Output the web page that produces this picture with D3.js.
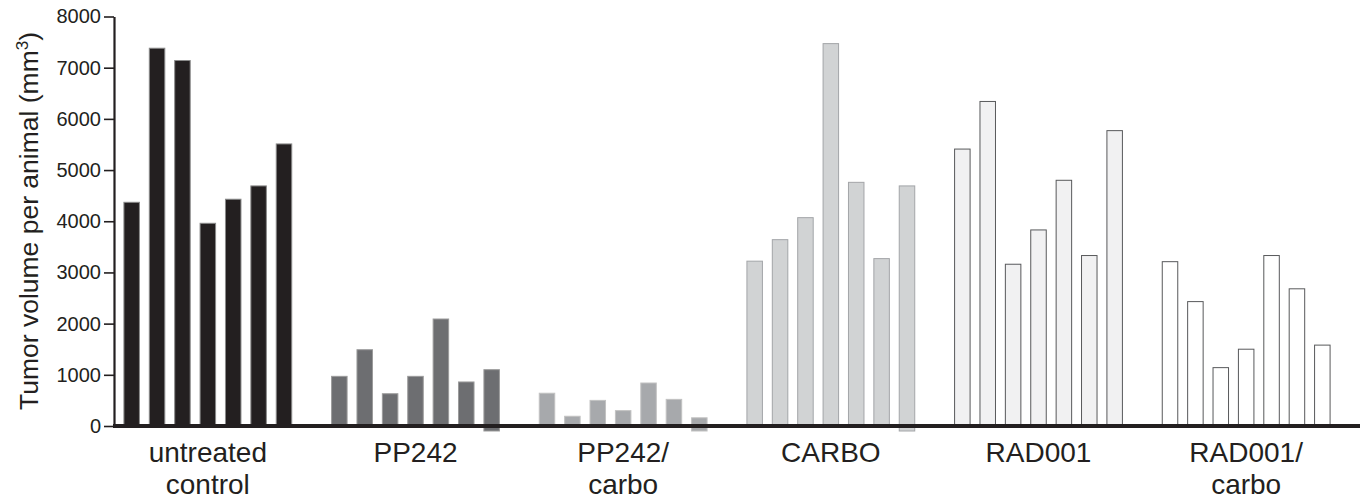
<!DOCTYPE html>
<html>
<head>
<meta charset="utf-8">
<script src="https://cdn.jsdelivr.net/npm/d3@7"></script>
<style>
  html, body { margin: 0; padding: 0; background: #fff; }
  svg { display: block; }
  text { font-family: "Liberation Sans", Arial, Helvetica, sans-serif; fill: #231f20; }
</style>
</head>
<body>
<svg id="chart" width="1360" height="499"></svg>
<script>
// ---- data ----
const groups = ["untreated control", "PP242", "PP242/carbo", "CARBO", "RAD001", "RAD001/carbo"];
const groupLabelLines = [["untreated", "control"], ["PP242"], ["PP242/", "carbo"], ["CARBO"], ["RAD001"], ["RAD001/", "carbo"]];
const animals = ["1", "2", "3", "4", "5", "6", "7"];
const untreatedControl = [4380, 7390, 7150, 3970, 4440, 4700, 5520];
const pp242 = [980, 1500, 640, 980, 2100, 870, 1110];
const pp242Carbo = [650, 200, 510, 310, 850, 530, 170];
const carbo = [3230, 3650, 4080, 7480, 4770, 3280, 4700];
const rad001 = [5420, 6350, 3170, 3840, 4810, 3340, 5780];
const rad001Carbo = [3220, 2440, 1150, 1510, 3340, 2690, 1590];
const seriesValues = [untreatedControl, pp242, pp242Carbo, carbo, rad001, rad001Carbo];
const yTicks = [0, 1000, 2000, 3000, 4000, 5000, 6000, 7000, 8000];
const yTitle = "Tumor volume per animal (mm";

// ---- styles ----
const fills = ["#231f20", "#6d6e71", "#a7a9ac", "#d1d3d4", "#f1f1f2", "#ffffff"];
const strokes = ["#8a8a8a", "#9b9b9b", "#c2c2c2", "#a3a5a8", "#58595b", "#58595b"];

const svg = d3.select("#chart");
const axisX0 = 114, baseY = 426, topY = 16.5;

const y = d3.scaleLinear().domain([0, 8000]).range([baseY, topY]);
const xg = d3.scaleBand().domain(groups).range([104, 1350]).paddingInner(0).paddingOuter(0);
const xb = d3.scaleBand().domain(animals).range([0, xg.bandwidth()]).paddingInner(0.35).paddingOuter(0.765);

// bars
const gGroups = svg.selectAll("g.grp").data(groups).join("g")
  .attr("class", "grp")
  .attr("transform", d => `translate(${xg(d)},0)`);

gGroups.each(function(gname, gi) {
  const vals = seriesValues[gi];
  d3.select(this).selectAll("rect").data(vals).join("rect")
    .attr("x", (v, i) => xb(animals[i]) + 0.5)
    .attr("y", v => y(v) + 0.5)
    .attr("width", xb.bandwidth() - 1)
    .attr("height", (v, i) => (y(0) - y(v)) + ((gi >= 1 && gi <= 3 && i === vals.length - 1) ? 4.5 : -0.5))
    .attr("fill", fills[gi])
    .attr("stroke", strokes[gi])
    .attr("stroke-width", 1);
});

// x baseline
svg.append("line")
  .attr("x1", axisX0 - 1).attr("x2", 1360)
  .attr("y1", baseY).attr("y2", baseY)
  .attr("stroke", "#231f20").attr("stroke-width", 4);

// y axis
const yAxis = d3.axisLeft(y).tickValues(yTicks).tickSize(10).tickSizeOuter(0).tickPadding(3).tickFormat(d3.format("d"));
const ga = svg.append("g").attr("transform", `translate(${axisX0},0)`).call(yAxis);
ga.select(".domain").attr("stroke", "#231f20").attr("stroke-width", 2.2);
ga.selectAll(".tick line").attr("stroke", "#231f20").attr("stroke-width", 1.6);
ga.selectAll(".tick text")
  .style("font-family", '"Liberation Sans", Arial, sans-serif')
  .style("font-size", "20px")
  .attr("fill", "#231f20");

// y title
const t = svg.append("text")
  .attr("transform", "translate(38,221) rotate(-90)")
  .attr("text-anchor", "middle")
  .style("font-size", "26.5px")
  .text(yTitle);
t.append("tspan").attr("dy", -10).style("font-size", "17px").text("3");
t.append("tspan").attr("dy", 10).text(")");

// x group labels
groups.forEach((g, gi) => {
  const cx = xg(g) + xg.bandwidth() / 2;
  const lbl = svg.append("text")
    .attr("x", cx).attr("y", 462)
    .attr("text-anchor", "middle")
    .style("font-size", "28px");
  groupLabelLines[gi].forEach((line, li) => {
    lbl.append("tspan").attr("x", cx).attr("dy", li === 0 ? 0 : 32).text(line);
  });
});
</script>
</body>
</html>
